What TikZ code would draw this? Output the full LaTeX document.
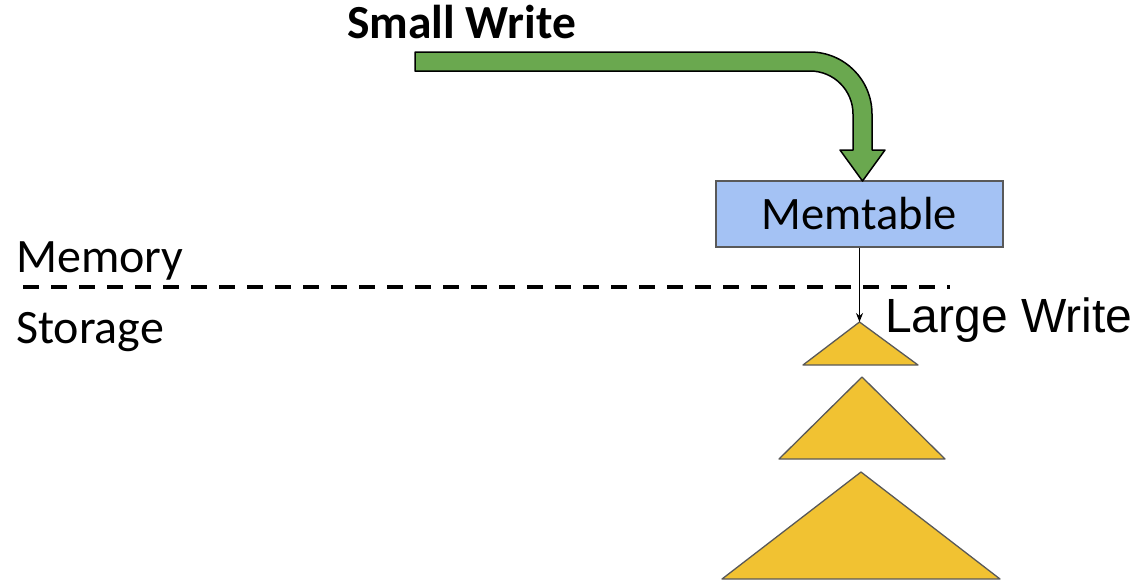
\documentclass[tikz,border=0pt]{standalone}
\usepackage{fontspec}
\setmainfont{Carlito}
\newfontfamily\arialfont{Liberation Sans}
\usetikzlibrary{arrows,arrows.meta,calc,positioning}
\definecolor{writegreen}{HTML}{6AA84F}
\definecolor{memblue}{HTML}{A4C2F4}
\definecolor{sstyellow}{HTML}{F1C232}
\definecolor{edgegray}{HTML}{595959}

\begin{document}
\begin{tikzpicture}[x=1pt,y=1pt,>=stealth',
		txt/.style={inner sep=0pt,anchor=base west,font=\fontsize{48}{52}\selectfont},
		memtab/.style={draw=edgegray,line width=1.2pt,fill=memblue,minimum width=287pt,minimum height=66pt,inner sep=0pt,font=\fontsize{46.5}{50}\selectfont},
		level/.style={draw=edgegray,line width=1.3pt,fill=sstyellow,line join=round}]
		\useasboundingbox (0,0) rectangle (1138,-582);
		% memory part
		\node[memtab] (mem) at (859.5,-214) {\raisebox{-3pt}{Memtable}};
		\node[txt,font=\fontsize{47.5}{52}\selectfont\bfseries] (small) at (347,-38) {Small Write};
		\filldraw[fill=writegreen,draw=black,line width=1.5pt,line join=round]
			(415,-52) -- (810,-52) arc[start angle=90,end angle=0,radius=62]
			-- (872,-150) -- (885,-150) -- (862.5,-181) -- (840,-150) -- (853,-150)
			-- (853,-114) arc[start angle=0,end angle=90,radius=43] -- (415,-71) -- cycle;
		% border between memory and storage
		\coordinate (sepL) at (23,-287);
		\coordinate (sepR) at (950,-287);
		\draw[dash pattern=on 16pt off 12pt,line width=3.5pt] (sepL) -- (sepR);
		\node[txt] (memory) at (16,-272) {Memory};
		\node[txt] (storage) at (16,-343) {Storage};
		% storage levels
		\coordinate (top0) at (mem.south |- 0,-322);
		\draw[level] (top0) -- (803,-365) -- (918,-365) -- cycle;
		\coordinate (top1) at (862,-377);
		\draw[level] (top1) -- (779,-459) -- (945,-459) -- cycle;
		\coordinate (top2) at (861,-472);
		\draw[level] (top2) -- (722,-579) -- (1000,-579) -- cycle;
		\draw[-{Stealth[length=9pt,width=7pt]},line width=1.6pt] (mem.south) -- (top0);
		\node[txt,font=\arialfont\fontsize{48}{52}\selectfont] (large) at (885,-332) {Large Write};
	\end{tikzpicture}
\end{document}
